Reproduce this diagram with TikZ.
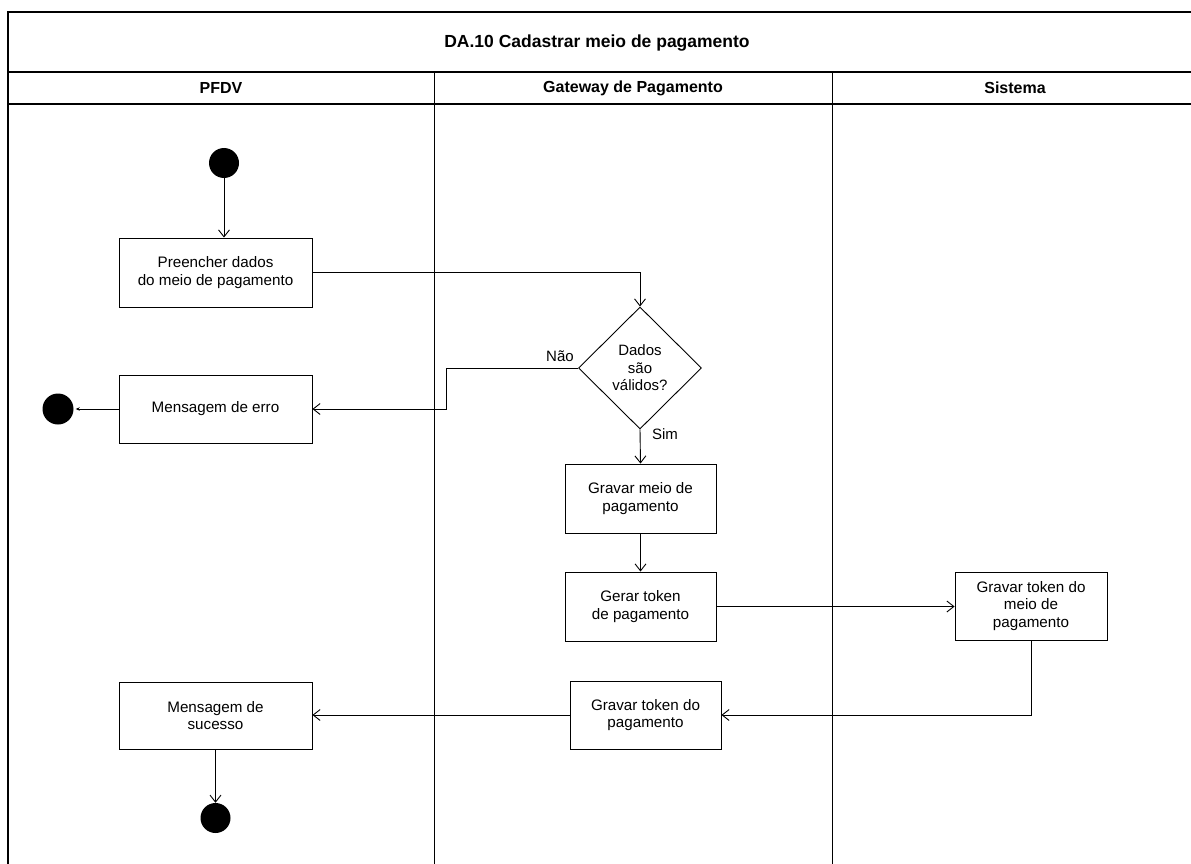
\documentclass[tikz,border=0pt]{standalone}
\usepackage{fontspec}
\setmainfont{Liberation Sans}
\usetikzlibrary{shapes.geometric,arrows.meta}
\begin{document}
\begin{tikzpicture}[x=1pt,y=-1pt,
  frame/.style={line width=1.1pt},
  lane/.style={line width=0.9pt},
  act/.style={draw,line width=0.9pt,rectangle,inner sep=0pt,align=center,font=\fontsize{15.2}{17.5}\selectfont},
  dot/.style={circle,fill=black,inner sep=0pt},
  dec/.style={draw,line width=0.9pt,diamond,inner sep=0pt,align=center,font=\fontsize{15}{17.5}\selectfont},
  flow/.style={line width=0.9pt,-{Straight Barb[length=7pt,width=11pt]}},
  lbl/.style={font=\fontsize{15}{17}\selectfont,inner sep=0pt},
  ttl/.style={font=\bfseries\fontsize{17.5}{20}\selectfont,inner sep=0pt},
  hdr/.style={font=\bfseries\fontsize{16}{18}\selectfont,inner sep=0pt}]
\useasboundingbox (0,0) rectangle (1191,864);
% frame
\draw[frame] (8,864) -- (8,12) -- (1191,12);
\draw[frame] (8,72) -- (1191,72);
\draw[frame] (8,104) -- (1191,104);
\draw[lane] (434,72) -- (434,864);
\draw[lane] (832,72) -- (832,864);
\node[ttl] (title) at (597,43) {DA.10 Cadastrar meio de pagamento};
\node[hdr] (h1) at (221,88) {PFDV};
\node[hdr] (h2) at (633,88) {Gateway de Pagamento};
\node[hdr] (h3) at (1015,88) {Sistema};
% nodes
\node[dot,minimum size=30pt] (start) at (224,163) {};
\node[act,minimum width=193pt,minimum height=69pt] (pre) at (215.5,272.5) {Preencher dados\\do meio de pagamento};
\node[dec,minimum width=123pt,minimum height=122pt] (d) at (640,368) {Dados\\são\\válidos?};
\node[act,minimum width=193pt,minimum height=68pt] (err) at (215.5,409) {Mensagem de erro};
\node[dot,minimum size=31pt] (endA) at (58,409) {};
\node[act,minimum width=151pt,minimum height=69pt] (grv) at (640.5,498.5) {Gravar meio de\\pagamento};
\node[act,minimum width=151pt,minimum height=69pt] (ger) at (640.5,606.5) {Gerar token\\de pagamento};
\node[act,minimum width=152pt,minimum height=68pt] (gtm) at (1031,606) {Gravar token do\\meio de\\pagamento};
\node[act,minimum width=151pt,minimum height=68pt] (gtp) at (645.5,715) {Gravar token do\\pagamento};
\node[act,minimum width=193pt,minimum height=67pt] (suc) at (215.5,715.5) {Mensagem de\\sucesso};
\node[dot,minimum size=30pt] (endB) at (215.5,818) {};
\node[lbl] (lnao) at (560,356) {Não};
\node[lbl] (lsim) at (665,434) {Sim};
\coordinate (nb) at (446,368);
% connectors
\draw[flow] (start.south) -- (start.south |- pre.north);
\draw[flow] (pre.east) -| (d.north);
\draw[flow] (d.west) -- (nb) |- (err.east);
\draw[line width=0.9pt,-{Stealth[length=4pt,width=3.5pt]},shorten >=2pt] (err.west) -- (endA.east);
\draw[flow] (d.south) -- (grv.north);
\draw[flow] (grv.south) -- (ger.north);
\draw[flow] (ger.east) -- (ger.east -| gtm.west);
\draw[flow] (gtm.south) |- (gtp.east);
\draw[flow] (gtp.west) -- (gtp.west -| suc.east);
\draw[flow] (suc.south) -- (endB.north);
\end{tikzpicture}
\end{document}
